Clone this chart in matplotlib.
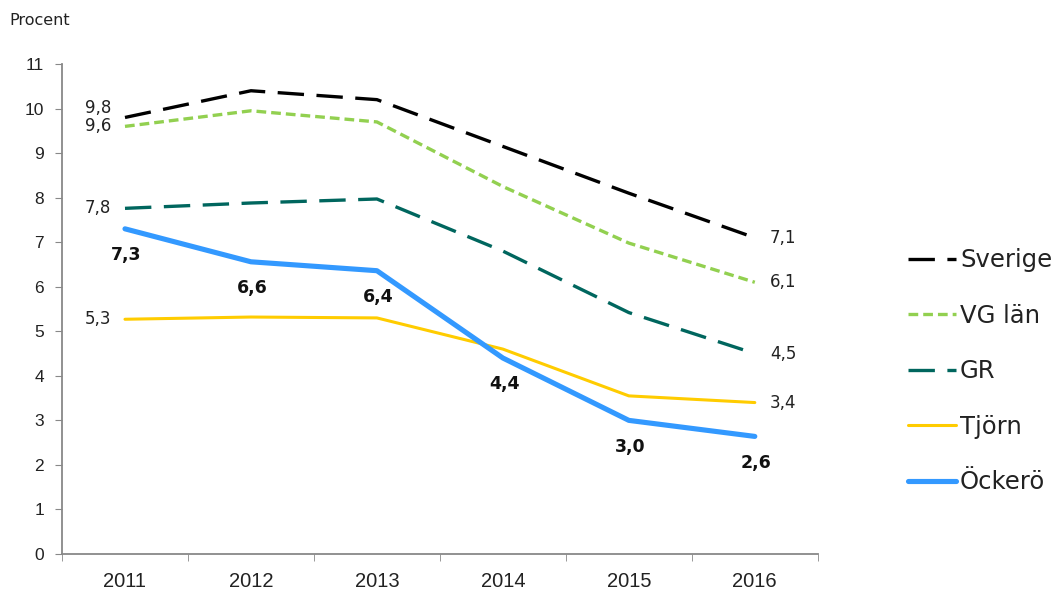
import matplotlib
matplotlib.use("Agg")
import matplotlib.pyplot as plt

years = ["2011", "2012", "2013", "2014", "2015", "2016"]
series_names = ["Sverige", "VG län", "GR", "Tjörn", "Öckerö"]
sverige = [9.8, 10.4, 10.2, 9.15, 8.1, 7.1]
vg_lan = [9.6, 9.95, 9.7, 8.25, 6.98, 6.1]
gr = [7.76, 7.88, 7.97, 6.8, 5.42, 4.5]
tjorn = [5.27, 5.32, 5.3, 4.6, 3.55, 3.4]
ockero = [7.3, 6.56, 6.36, 4.4, 3.0, 2.64]
yticks = list(range(0, 12))

plt.rcParams['lines.scale_dashes'] = False

fig = plt.figure(figsize=(10.6, 5.9), dpi=100)
ax = fig.add_axes([0.0585, 0.061, 0.713, 0.8305])
x = list(range(len(years)))

styles = [
    dict(color="#000000", lw=2.4, ls=(0, (19, 9))),
    dict(color="#92D050", lw=2.4, ls=(0, (7, 3.6))),
    dict(color="#00665E", lw=2.4, ls=(0, (19, 9))),
    dict(color="#FFCC00", lw=2.2, ls="-"),
    dict(color="#3399FF", lw=3.7, ls="-"),
]
data = [sverige, vg_lan, gr, tjorn, ockero]
for name, vals, st in zip(series_names, data, styles):
    ax.plot(x, vals, color=st["color"], lw=st["lw"], linestyle=st["ls"], label=name,
            solid_capstyle="round", dash_capstyle="butt")

def fmt(v):
    return f"{v:.1f}".replace(".", ",")

lab_font = dict(family="DejaVu Sans", fontsize=12, color="#222222")
left_offsets = [7, 0, 0, 0]
for vals, dy in zip(data[:4], left_offsets):
    ax.annotate(fmt(vals[0]), (x[0], vals[0]), xytext=(-10, dy), textcoords="offset points",
                ha="right", va="center", **lab_font)
    ax.annotate(fmt(vals[-1]), (x[-1], vals[-1]), xytext=(11, 0), textcoords="offset points",
                ha="left", va="center", **lab_font)
for xi, v in zip(x, ockero):
    ax.annotate(fmt(v), (xi, v), xytext=(1, -19), textcoords="offset points",
                ha="center", va="center", fontweight="bold", family="DejaVu Sans",
                fontsize=12.5, color="#111111")

ax.set_xlim(-0.5, len(years) - 0.5)
ax.set_ylim(0, 11)
ax.set_yticks(yticks)
ax.set_yticklabels([str(t) for t in yticks], family="Liberation Sans", fontsize=12.5,
                   color="#222222")
ax.set_xticks(x)
ax.set_xticklabels(years, family="Liberation Sans", fontsize=14.5, color="#222222")
ax.set_xticks([i - 0.5 for i in range(len(years) + 1)], minor=True)
ax.tick_params(axis="x", which="major", length=0, pad=13)
ax.tick_params(axis="x", which="minor", length=5, color="#888888", direction="out")
ax.tick_params(axis="y", length=5, color="#888888", direction="out", pad=8)
for s in ["top", "right"]:
    ax.spines[s].set_visible(False)
for s in ["left", "bottom"]:
    ax.spines[s].set_color("#888888")
    ax.spines[s].set_linewidth(1.3)

fig.text(0.009, 0.965, "Procent", family="DejaVu Sans", fontsize=11.5, ha="left",
         va="center", color="#222222")

leg = ax.legend(loc="center left", bbox_to_anchor=(1.119, 0.373), frameon=False,
                prop=dict(family="DejaVu Sans", size=17.5), handlelength=2.0,
                handletextpad=0.15, labelspacing=1.3, borderpad=0, borderaxespad=0)
for t in leg.get_texts():
    t.set_color("#222222")

fig.savefig("out.png", dpi=100)
